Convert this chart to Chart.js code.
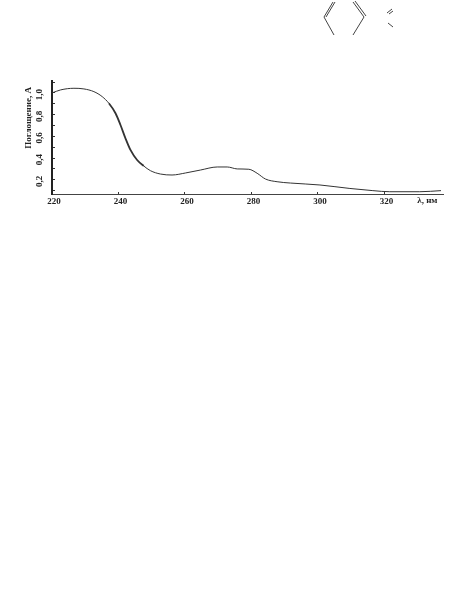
<!DOCTYPE html>
<html>
<head>
<meta charset="utf-8">
<title>Поглощение</title>
<script src="https://cdn.jsdelivr.net/npm/chart.js@4/dist/chart.umd.min.js"></script>
<style>
  html, body { margin: 0; padding: 0; background: #fff; }
  #wrap { position: relative; width: 464px; height: 599px; overflow: hidden; }
  #spectrum { display: block; }
  #structure { position: absolute; left: 0; top: 0; }
</style>
</head>
<body>
<div id="wrap">
  <canvas id="spectrum" width="464" height="599"></canvas>
  <svg id="structure" width="464" height="50" fill="none" stroke="#444" stroke-width="1">
    <path d="M333 2 L324 17 L334 35"/>
    <path d="M335 2 L326 17"/>
    <path d="M353 2 L364 17 L353 35"/>
    <path d="M355 1 L366 16"/>
    <path d="M387 13 L392 9 M389 14 L393 11"/>
    <path d="M388 23 L393 27"/>
  </svg>
</div>
<script>
const wavelengths = [220, 222.6, 226.6, 229.6, 232.6, 235.1, 237.1, 239.1, 240.6, 242.1, 243.6, 245.6, 247.6, 249.6, 252.6, 256.1, 260.2, 264.7, 269.7, 272.7, 275.7, 279.2, 281.7, 284.2, 287.7, 291.7, 300.6, 309.6, 316.5, 321.6, 330.6, 337];
const absorbance = [1.0, 1.028, 1.043, 1.037, 1.012, 0.966, 0.905, 0.813, 0.705, 0.582, 0.475, 0.382, 0.327, 0.284, 0.253, 0.244, 0.263, 0.29, 0.318, 0.318, 0.30, 0.297, 0.26, 0.207, 0.182, 0.17, 0.152, 0.12, 0.10, 0.09, 0.09, 0.10];
const xTicks = [220, 240, 260, 280, 300, 320];
const yTicks = [0.1, 0.2, 0.3, 0.4, 0.5, 0.6, 0.7, 0.8, 0.9, 1.0, 1.1];
const yLabels = { 0.2: '0,2', 0.4: '0,4', 0.6: '0,6', 0.8: '0,8', 1.0: '1,0' };

const font = { family: '"Liberation Serif", serif', size: 9, weight: 'bold' };

// axis captions: the y one is off centre and "λ, нм" follows the tick labels
const axisCaptions = {
  id: 'axisCaptions',
  afterDraw(chart) {
    const { ctx, scales } = chart;
    ctx.save();
    ctx.font = 'bold 9px "Liberation Serif", serif';
    ctx.fillStyle = '#222';
    ctx.textAlign = 'center';
    ctx.textBaseline = 'middle';
    ctx.fillText('λ, нм', scales.x.getPixelForValue(332.9), scales.x.top + 7);
    ctx.translate(scales.y.left + 29, scales.y.getPixelForValue(0.77));
    ctx.rotate(-Math.PI / 2);
    ctx.fillText('Поглощение, A', 0, 0);
    ctx.restore();
  }
};

new Chart(document.getElementById('spectrum'), {
  type: 'line',
  data: {
    datasets: [{
      data: wavelengths.map((w, i) => ({ x: w, y: absorbance[i] })),
      borderColor: '#333',
      borderWidth: 1,
      pointRadius: 0,
      cubicInterpolationMode: 'monotone',
      fill: false,
      // the steep part of the band is printed heavier in the source
      segment: { borderWidth: c => (c.p0.parsed.x >= 237 && c.p0.parsed.x < 246 ? 1.8 : 1) }
    }]
  },
  options: {
    responsive: false,
    animation: false,
    layout: { padding: { left: 0, right: 21, top: 81, bottom: 0 } },
    plugins: { legend: { display: false }, tooltip: { enabled: false } },
    scales: {
      x: {
        type: 'linear',
        min: 220,
        max: 337.6,
        afterFit: s => { s.height = 405; },
        afterBuildTicks: s => { s.ticks = xTicks.map(v => ({ value: v })); },
        grid: { drawOnChartArea: false, drawTicks: true, tickLength: -2, tickColor: '#333' },
        border: { color: '#444', width: 1 },
        ticks: { color: '#222', font, padding: 4, labelOffset: 2, maxRotation: 0, callback: v => String(v) }
      },
      y: {
        min: 0.069,
        max: 1.11,
        afterFit: s => { s.width = 52; },
        afterBuildTicks: s => { s.ticks = yTicks.map(v => ({ value: v })); },
        grid: { drawOnChartArea: false, drawTicks: true, tickLength: -3, tickColor: '#333' },
        border: { color: '#222', width: 2 },
        ticks: {
          color: '#222',
          font,
          padding: 15,
          labelOffset: -4,
          minRotation: 90,
          maxRotation: 90,
          autoSkip: false,
          callback: v => yLabels[Math.round(v * 10) / 10] || ''
        }
      }
    }
  },
  plugins: [axisCaptions]
});
</script>
</body>
</html>
